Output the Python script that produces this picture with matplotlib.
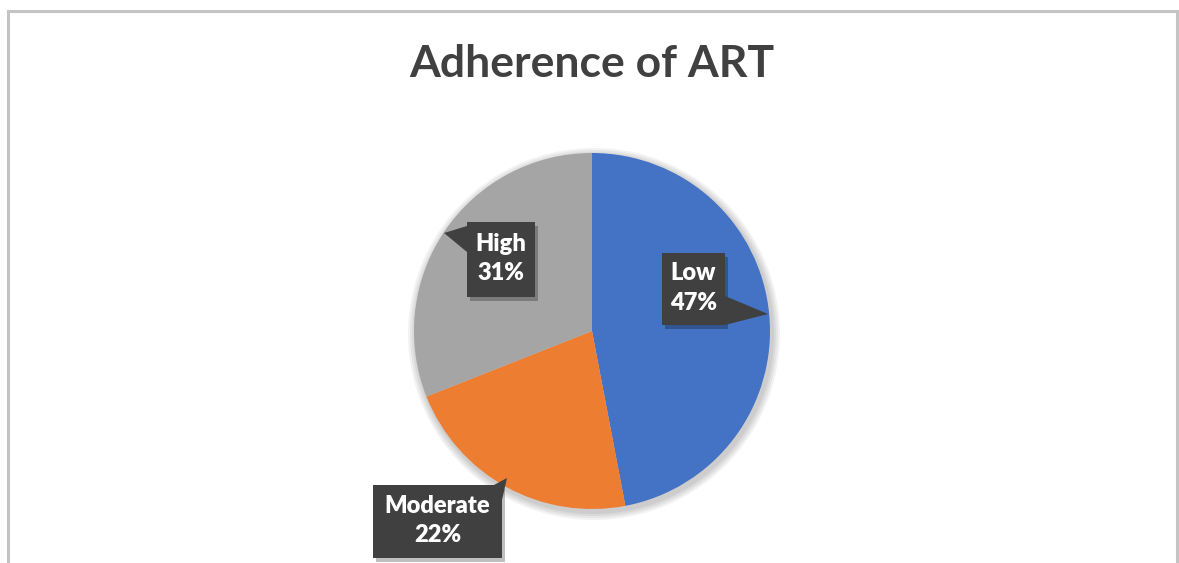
import matplotlib.pyplot as plt
from matplotlib.patches import Polygon, Circle, Rectangle

categories = ["Low", "Moderate", "High"]
values = [47, 22, 31]
colors = ["#4472C4", "#ED7D31", "#A5A5A5"]

W, H = 1179, 563
fig = plt.figure(figsize=(W / 100, H / 100), dpi=100)
ax = fig.add_axes([0, 0, 1, 1])

def Y(y):
    return H - y

cx, cy, r = 592, Y(331), 178

# soft shadow behind pie
for k in range(4):
    ax.add_patch(Circle((cx + 2, cy - 3), r + 2 + 2 * k, color="black", alpha=0.05, lw=0, zorder=1))

ax.pie(values, colors=colors, startangle=90, counterclock=False,
       center=(cx, cy), radius=r, frame=True,
       wedgeprops=dict(linewidth=0, zorder=2))
ax.set_xlim(0, W)
ax.set_ylim(0, H)
ax.set_aspect("equal")
ax.axis("off")

# chart frame
ax.add_patch(Rectangle((8, Y(575)), 1169, 564, fill=False, edgecolor="#C4C4C4", lw=2.2))

ax.text(592, Y(64), "Adherence of ART", ha="center", va="center",
        fontsize=32, fontweight="bold", color="#404040", family="Lato")

# callout boxes: (x0, y0, x1, y1) in image px, pointer polygon points
boxes = {
    "Low": ((662, 253, 725, 325), [(725, 296), (768, 314), (725, 325)]),
    "Moderate": ((373, 485, 502, 558), [(494, 485), (507, 478), (502, 500)]),
    "High": ((467, 222, 535, 297), [(467, 226), (444, 233), (467, 252)]),
}

for cat, v in zip(categories, values):
    (x0, y0, x1, y1), ptr = boxes[cat]
    # shadow
    ax.add_patch(Rectangle((x0 + 3, Y(y1 + 4)), x1 - x0, y1 - y0, color="black",
                           alpha=0.25, lw=0, zorder=3))
    ax.add_patch(Rectangle((x0, Y(y1)), x1 - x0, y1 - y0, facecolor="#404040",
                           lw=0, zorder=4))
    ax.add_patch(Polygon([(px, Y(py)) for px, py in ptr], closed=True,
                         facecolor="#404040", lw=0, zorder=4))
    ax.text((x0 + x1) / 2, Y((y0 + y1) / 2 - 1), f"{cat}\n{v}%", ha="center", va="center",
            fontsize=17, fontweight="heavy", color="white", family="Lato",
            linespacing=1.4, zorder=5)

fig.savefig("out.png", dpi=100)
